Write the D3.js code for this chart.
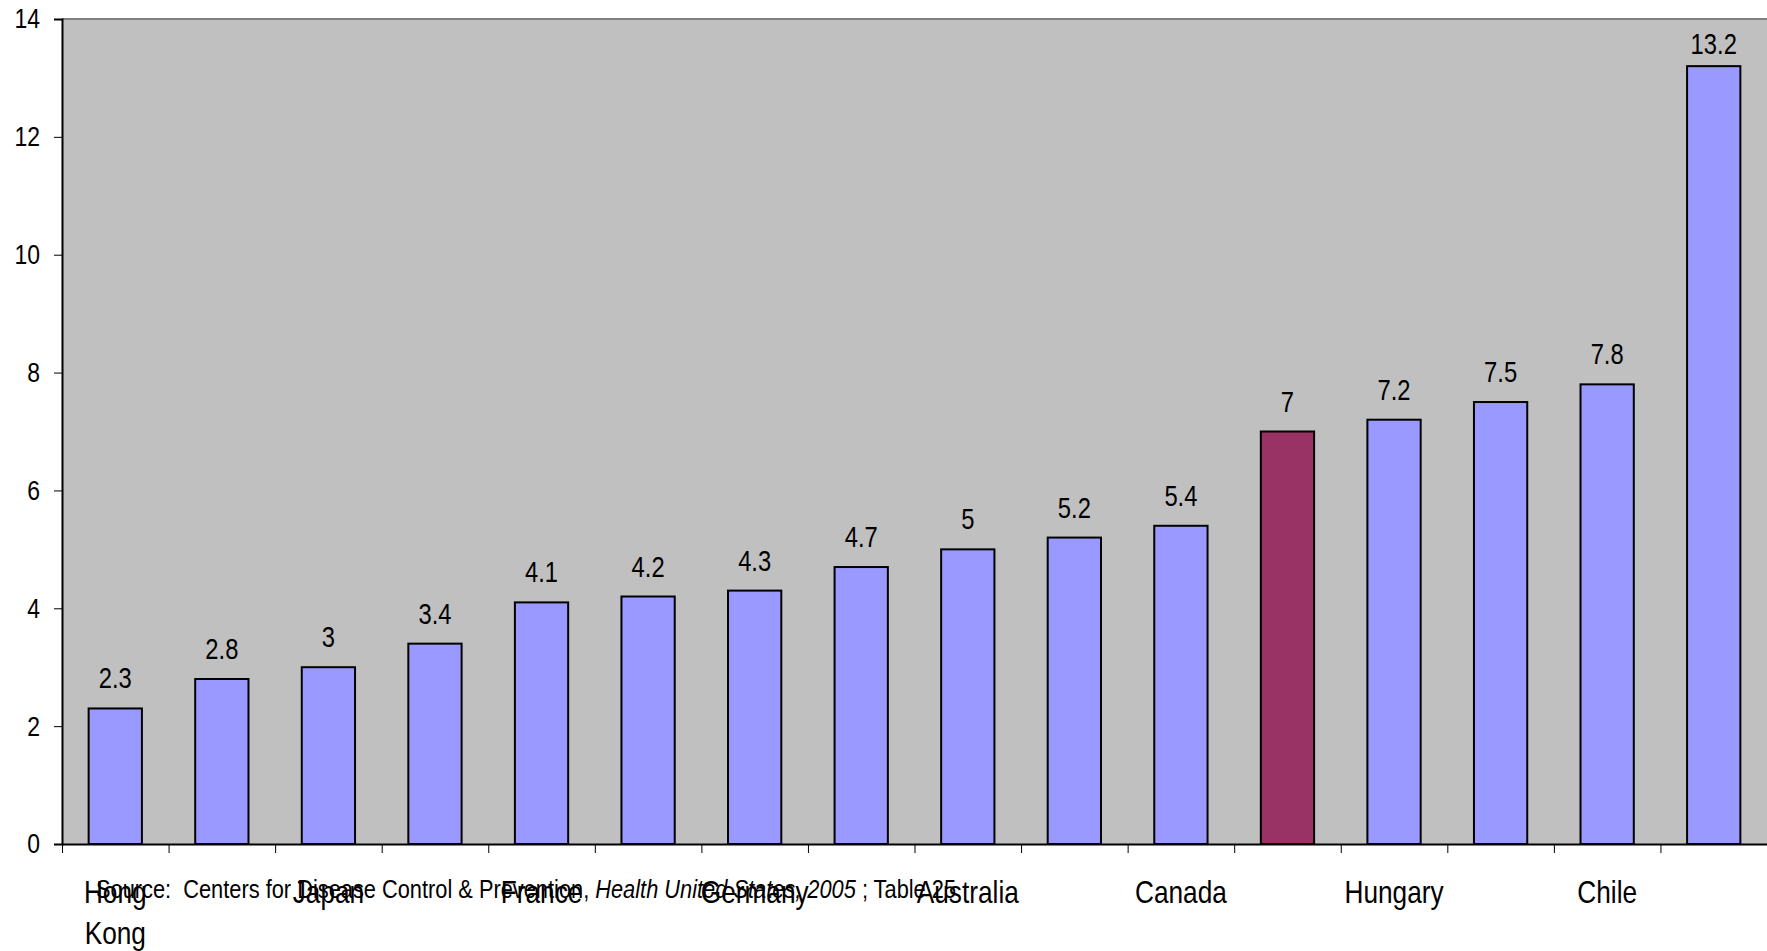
<!DOCTYPE html>
<html>
<head>
<meta charset="utf-8">
<script src="https://cdn.jsdelivr.net/npm/d3@7"></script>
<style>
  body { margin: 0; background: #ffffff; }
  svg text { font-family: "Liberation Sans", Arial, sans-serif; fill: #000; white-space: pre; }
</style>
</head>
<body>
<div id="chart"></div>
<script>
// ============================================
// DATA
// ============================================

const categories = [
  "Hong Kong", "Sweden", "Japan", "Norway", "France", "Spain", "Germany", "Denmark",
  "Australia", "United Kingdom", "Canada", "United States", "Hungary", "Poland", "Chile", "Russia"
];
const rates = [2.3, 2.8, 3, 3.4, 4.1, 4.2, 4.3, 4.7, 5, 5.2, 5.4, 7, 7.2, 7.5, 7.8, 13.2];
const highlighted = ["United States"];
const yTicks = [0, 2, 4, 6, 8, 10, 12, 14];

// ============================================
// LAYOUT
// ============================================

const width = 1767;
const height = 951;
const margins = { top: 19, right: 0, bottom: 107, left: 62 };
// narrow face, like Arial Narrow: squeeze the sans horizontally
const NARROW = 0.82;

const svg = d3
  .select("#chart")
  .append("svg")
  .attr("width", width)
  .attr("height", height);

const x = d3
  .scaleBand()
  .domain(categories)
  .range([margins.left, width - margins.right])
  .paddingInner(0.5)
  .paddingOuter(0.25);

const xIndex = d3
  .scaleLinear()
  .domain([0, categories.length])
  .range([margins.left, width - margins.right]);

const y = d3
  .scaleLinear()
  .domain([0, 14])
  .range([height - margins.bottom, margins.top]);

// plot area background
svg.append("rect")
  .attr("x", margins.left)
  .attr("y", margins.top)
  .attr("width", width - margins.left - margins.right)
  .attr("height", y(0) - margins.top)
  .attr("fill", "#c0c0c0");

// top border
svg.append("line")
  .attr("x1", margins.left)
  .attr("x2", width)
  .attr("y1", margins.top)
  .attr("y2", margins.top)
  .attr("stroke", "#808080")
  .attr("stroke-width", 2);

// ============================================
// BARS
// ============================================

svg.append("g")
  .selectAll("rect")
  .data(categories)
  .join("rect")
  .attr("x", (d) => x(d))
  .attr("y", (d, i) => y(rates[i]))
  .attr("width", x.bandwidth())
  .attr("height", (d, i) => y(0) - y(rates[i]))
  .attr("fill", (d) => (highlighted.includes(d) ? "#993366" : "#9999ff"))
  .attr("stroke", "#000")
  .attr("stroke-width", 2);

// value labels
svg.append("g")
  .selectAll("text")
  .data(categories)
  .join("text")
  .attr("transform", (d, i) => {
    const cx = x(d) + x.bandwidth() / 2;
    const cy = Math.max(y(rates[i]) - 20, margins.top + 35);
    return `translate(${cx},${cy}) scale(${NARROW},1)`;
  })
  .attr("text-anchor", "middle")
  .style("font-size", "29px")
  .text((d, i) => rates[i]);

// ============================================
// AXES
// ============================================

const yAxis = svg.append("g")
  .attr("transform", `translate(${margins.left},0)`)
  .call(d3.axisLeft(y).tickValues(yTicks).tickSize(8).tickPadding(14));
yAxis.select(".domain").attr("stroke", "#000").attr("stroke-width", 2);
yAxis.selectAll(".tick line").attr("stroke", "#000");
yAxis.selectAll(".tick text")
  .style("font-size", "28px")
  .attr("fill", "#000")
  .attr("x", -22 / NARROW)
  .attr("transform", `scale(${NARROW},1)`);

const xAxis = svg.append("g")
  .attr("transform", `translate(0,${y(0)})`)
  .call(
    d3.axisBottom(xIndex)
      .tickValues(d3.range(categories.length + 1))
      .tickFormat("")
      .tickSize(9)
      .tickSizeOuter(0)
  );
xAxis.select(".domain").attr("stroke", "#000").attr("stroke-width", 2);
xAxis.selectAll(".tick line").attr("stroke", "#000");

// category labels, every other one
const catLabels = svg.append("g")
  .selectAll("text")
  .data(categories.filter((d, i) => i % 2 === 0))
  .join("text")
  .attr("transform", (d) => `translate(${x(d) + x.bandwidth() / 2},${y(0) + 59}) scale(${NARROW},1)`)
  .attr("text-anchor", "middle")
  .style("font-size", "32px");

catLabels.each(function (d) {
  d3.select(this)
    .selectAll("tspan")
    .data(d.split(" "))
    .join("tspan")
    .attr("x", 0)
    .attr("dy", (w, i) => (i === 0 ? 0 : 41))
    .text((w) => w);
});

// source note
const note = svg.append("text")
  .attr("transform", `translate(96,${y(0) + 54}) scale(${NARROW},1)`)
  .style("font-size", "26.6px");
note.append("tspan").text("Source:  Centers for Disease Control & Prevention, ");
note.append("tspan").style("font-style", "italic").text("Health United States, 2005");
note.append("tspan").text(" ; Table 25");
</script>
</body>
</html>
